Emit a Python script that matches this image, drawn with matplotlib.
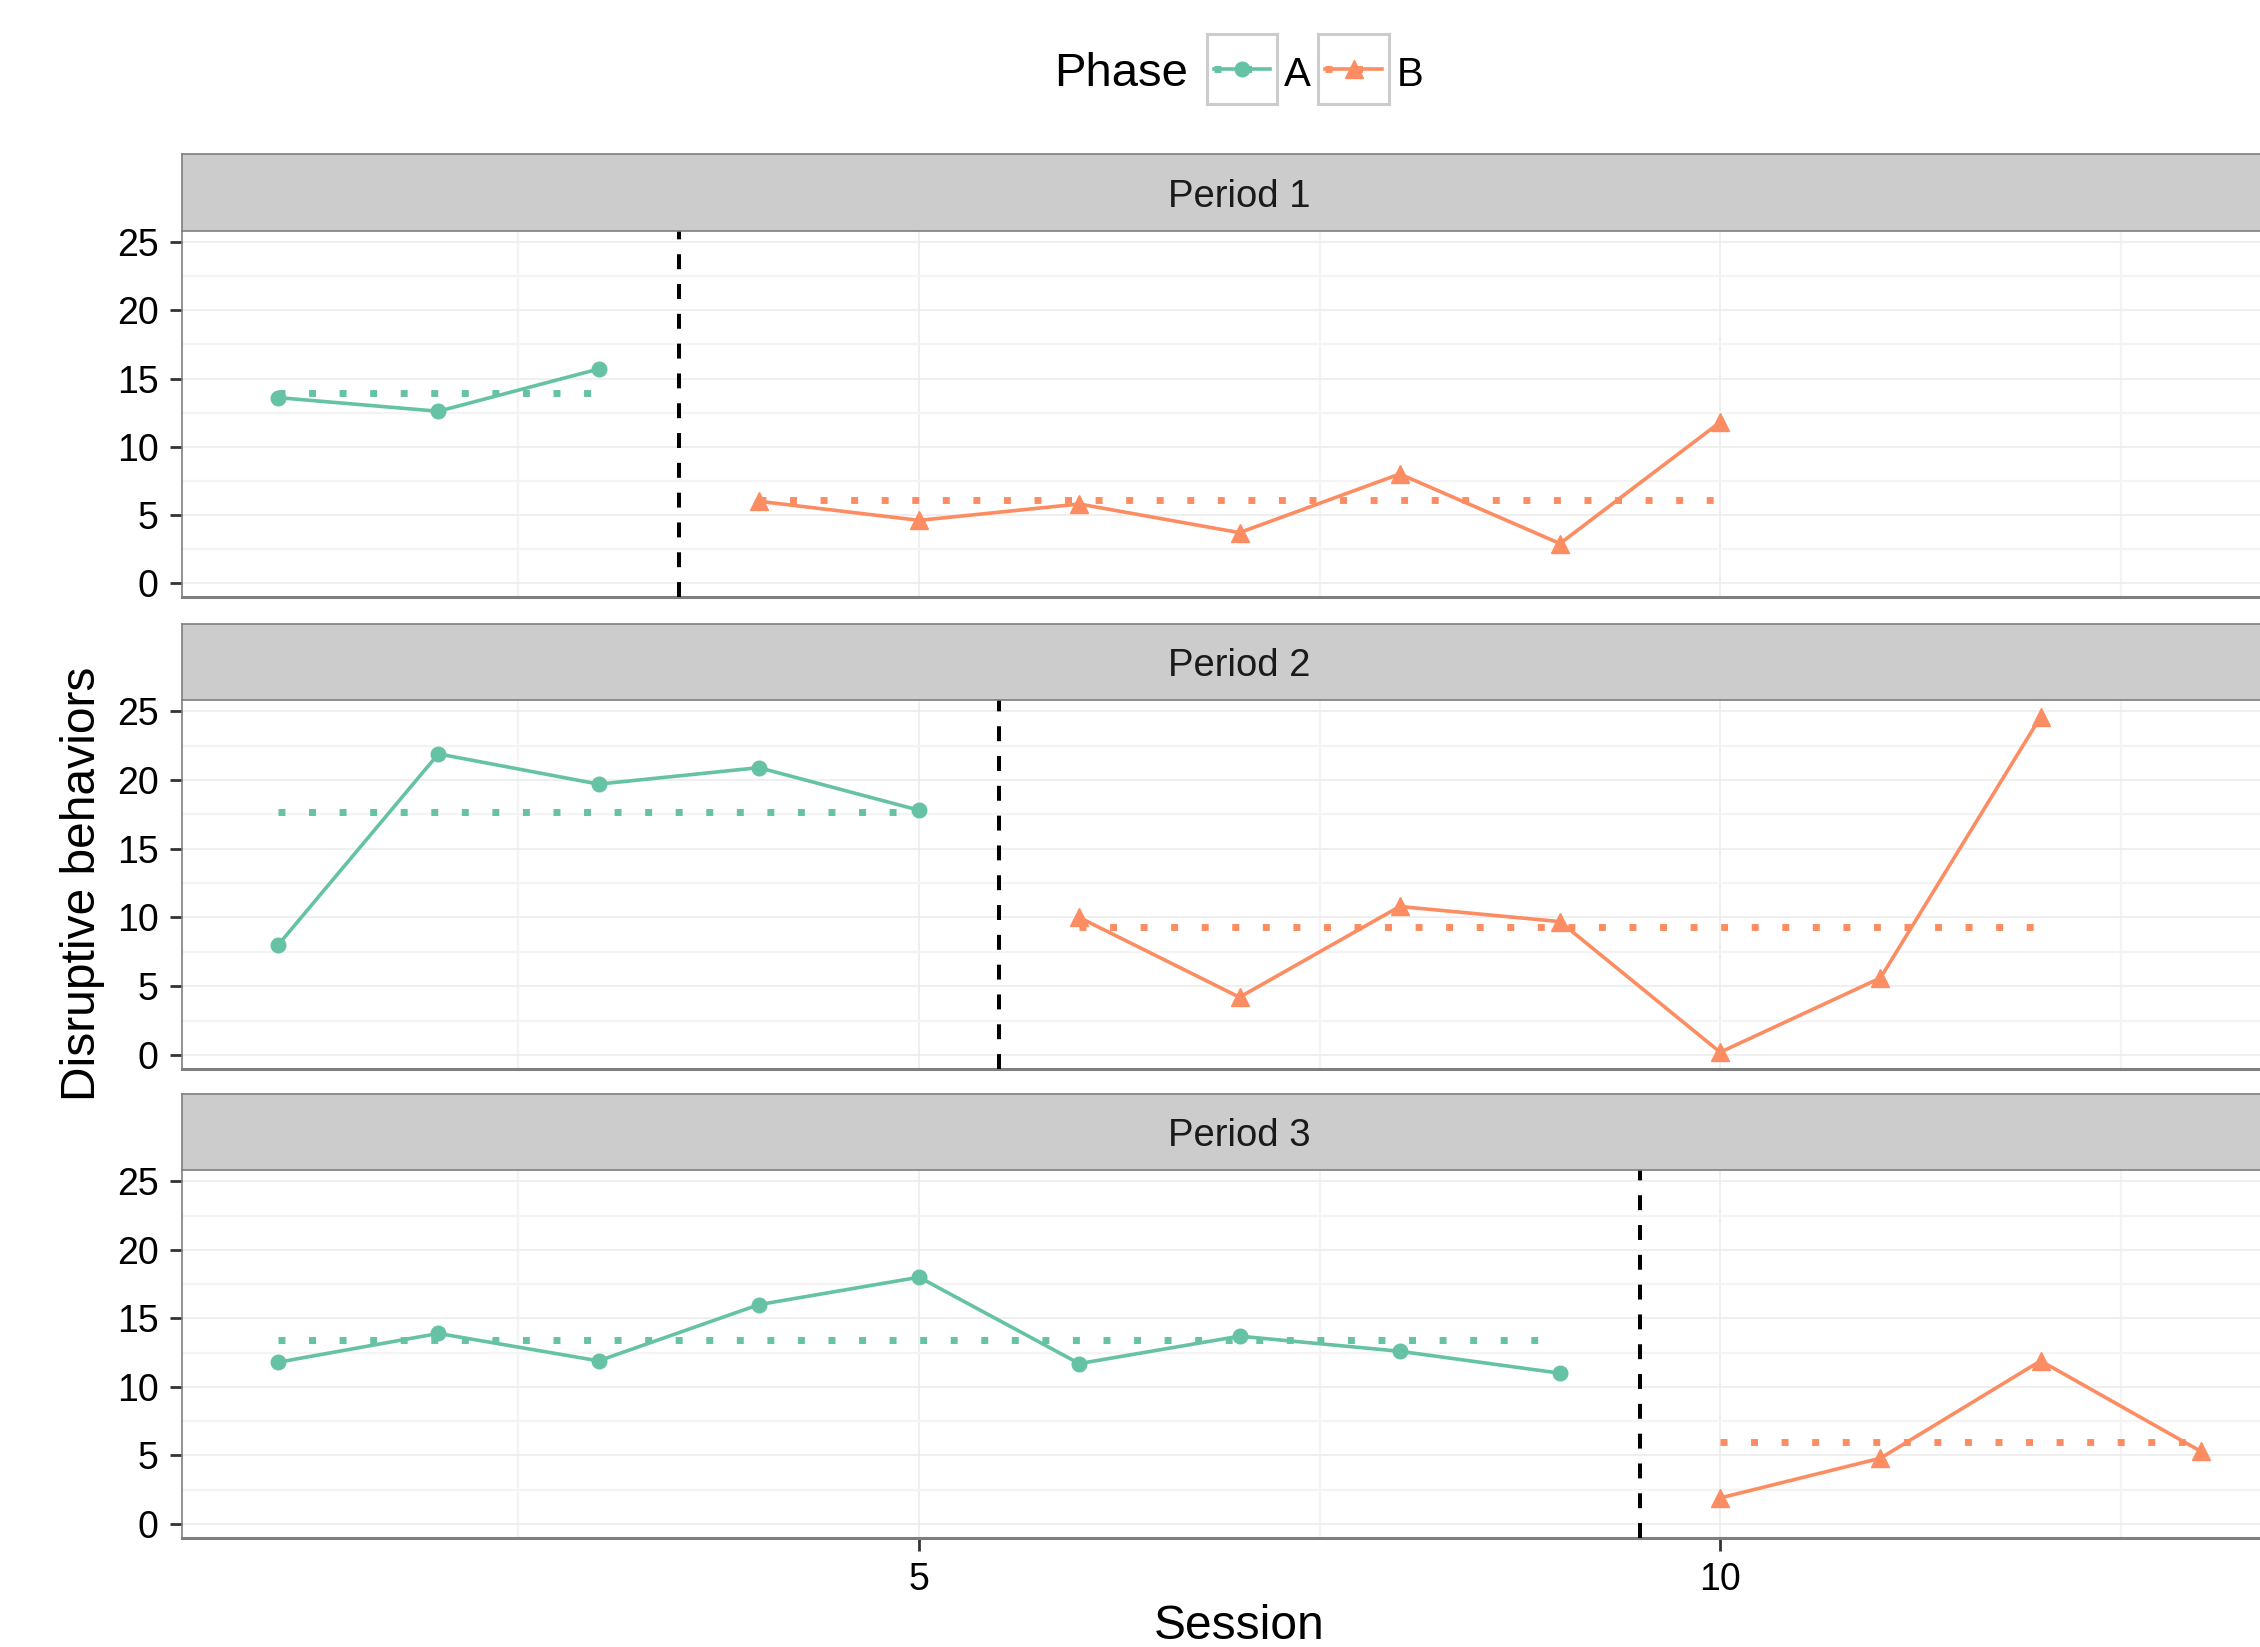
import numpy as np
import matplotlib
matplotlib.use("Agg")
import matplotlib.pyplot as plt

plt.rcParams['font.family'] = ['Liberation Sans', 'DejaVu Sans']

# values, one list per period and phase
periods = ["Period 1", "Period 2", "Period 3"]
a1 = [13.6, 12.6, 15.7]
b1 = [6.0, 4.6, 5.8, 3.7, 8.0, 2.9, 11.8]
a2 = [8.0, 21.9, 19.7, 20.9, 17.8]
b2 = [10.0, 4.2, 10.8, 9.7, 0.2, 5.6, 24.6]
a3 = [11.8, 13.9, 11.9, 16.0, 18.0, 11.7, 13.7, 12.6, 11.0]
b3 = [1.9, 4.8, 11.9, 5.3]

phase_labels = ["A", "B"]
phase_colors = ["#66C2A5", "#FC8D62"]
phase_markers = ["o", "^"]
phase_ms = [10.5, 13]

x_major = [5, 10]
x_minor = [2.5, 7.5, 12.5]
y_major = [0, 5, 10, 15, 20, 25]
y_minor = [2.5, 7.5, 12.5, 17.5, 22.5]

W, H = 2260, 1647
fig = plt.figure(figsize=(W / 100, H / 100), dpi=100)


def box(l, t, r, b):
    return [l / W, 1 - b / H, (r - l) / W, (b - t) / H]


rows = [(154, 231, 597), (624, 700, 1069), (1094, 1170, 1538)]
data = [(a1, b1), (a2, b2), (a3, b3)]

all_y = np.concatenate([np.r_[a, b] for a, b in data])
lo, hi = all_y.min(), all_y.max()
pad_y = 0.05 * (hi - lo)
n_max = max(len(a) + len(b) for a, b in data)
pad_x = 0.05 * (n_max - 1)

left, right = 182, 2297
grey = "#7F7F7F"
dotted = (0, (1, 3.4))

for i, ((stop, ptop, pbot), (a, b)) in enumerate(zip(rows, data)):
    ax = fig.add_axes(box(left, ptop, right, pbot))
    ax.set_xlim(1 - pad_x, n_max + pad_x)
    ax.set_ylim(lo - pad_y, hi + pad_y)
    ax.set_xticks(x_major)
    ax.set_xticks(x_minor, minor=True)
    ax.set_yticks(y_major)
    ax.set_yticks(y_minor, minor=True)
    ax.grid(which="major", color="#EBEBEB", lw=1.1)
    ax.grid(which="minor", color="#F4F4F4", lw=1.6)
    ax.set_axisbelow(True)
    for s in ["top", "right"]:
        ax.spines[s].set_visible(False)
    ax.spines["left"].set_color(grey)
    ax.spines["left"].set_linewidth(1.2)
    ax.spines["bottom"].set_color(grey)
    ax.spines["bottom"].set_linewidth(2.2)
    ax.tick_params(which="minor", length=0)
    ax.tick_params(which="major", length=9, width=2, color="#333333",
                   labelsize=27, pad=8)
    if i < 2:
        ax.tick_params(axis="x", length=0, labelbottom=False)

    xa = np.arange(1, len(a) + 1)
    xb = np.arange(len(a) + 1, len(a) + len(b) + 1)
    for x, y, c, m, ms in zip([xa, xb], [a, b], phase_colors, phase_markers, phase_ms):
        ax.plot(x, y, color=c, lw=2.6, marker=m, ms=ms, clip_on=False, zorder=3)
        mu = np.mean(y)
        ax.plot([x[0], x[-1]], [mu, mu], color=c, lw=5,
                linestyle=dotted, dash_capstyle="butt", zorder=2)
    ax.axvline(len(a) + 0.5, color="black", lw=2.9, linestyle=(0, (3.7, 3.7)), zorder=4)

    # facet strip
    sax = fig.add_axes(box(left, stop, right, ptop))
    sax.set_facecolor("#CCCCCC")
    sax.set_xticks([])
    sax.set_yticks([])
    for s in sax.spines.values():
        s.set_color(grey)
        s.set_linewidth(1.2)
    sax.text(0.5, 0.31, periods[i], transform=sax.transAxes, ha="center",
             va="baseline", fontsize=27.5, color="#1A1A1A")

fig.text(1239 / W, 1 - 1639 / H, "Session", ha="center", va="baseline", fontsize=34.5)
fig.text(83 / W, 1 - 884 / H, "Disruptive behaviors", ha="center", va="center",
         rotation=90, fontsize=34.5)

# legend
fig.text(1188 / W, 1 - 86 / H, "Phase", ha="right", va="baseline", fontsize=34)
keys = [(1207, 1277, 1284), (1318, 1389, 1397)]
for (kl, kr, tx), lab, c, m, ms in zip(keys, phase_labels, phase_colors, phase_markers, phase_ms):
    kax = fig.add_axes(box(kl, 34, kr, 104))
    kax.set_xlim(0, 1)
    kax.set_ylim(0, 1)
    kax.set_xticks([])
    kax.set_yticks([])
    for s in kax.spines.values():
        s.set_color("#CCCCCC")
        s.set_linewidth(2.2)
    kax.plot([0.1, 0.9], [0.5, 0.5], color=c, lw=5,
             linestyle=dotted, dash_capstyle="butt")
    kax.plot([0.1, 0.5, 0.9], [0.5, 0.5, 0.5], color=c, lw=2.6, marker=m, ms=ms,
             markevery=[1])
    fig.text(tx / W, 1 - 86 / H, lab, ha="left", va="baseline", fontsize=29)

fig.savefig("out.png", dpi=100)
